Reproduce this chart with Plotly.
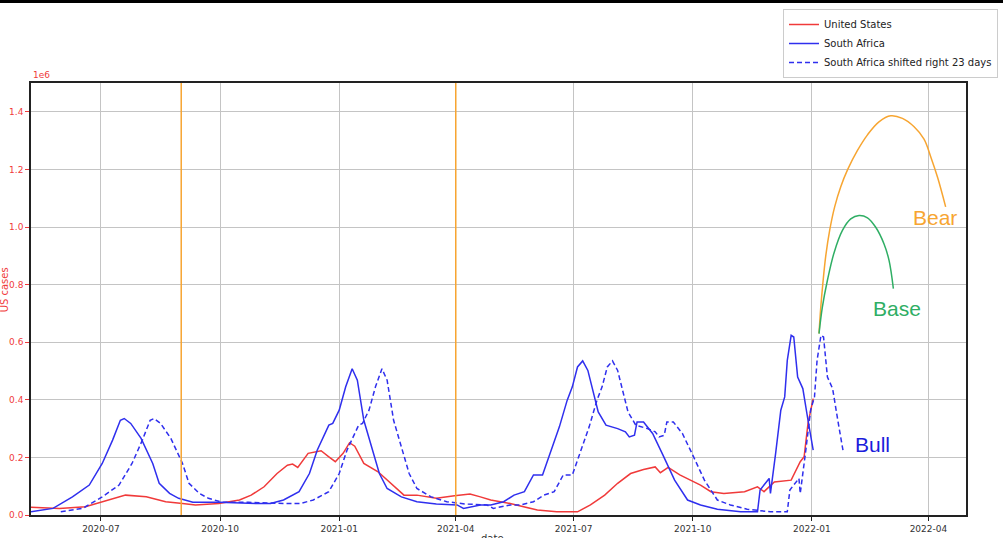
import pandas as pd
import plotly.graph_objects as go

# ---------------- data (cases) ----------------
sa_dates = ["2020-05-08","2020-05-25","2020-06-09","2020-06-22","2020-07-02","2020-07-10","2020-07-16","2020-07-19",
            "2020-07-24","2020-08-01","2020-08-10","2020-08-15","2020-08-23","2020-08-30","2020-09-10","2020-09-30",
            "2020-10-29","2020-11-09","2020-11-19","2020-12-01","2020-12-09","2020-12-15","2020-12-24","2020-12-27",
            "2021-01-01","2021-01-06","2021-01-11","2021-01-15","2021-01-20","2021-01-27","2021-02-01","2021-02-07",
            "2021-02-18","2021-03-02","2021-03-17","2021-04-02","2021-04-07","2021-04-20","2021-04-28","2021-05-08",
            "2021-05-16","2021-05-24","2021-05-31","2021-06-07","2021-06-13","2021-06-20","2021-06-26","2021-06-30",
            "2021-07-04","2021-07-08","2021-07-12","2021-07-16","2021-07-20","2021-07-26","2021-08-04","2021-08-10",
            "2021-08-13","2021-08-17","2021-08-19","2021-08-24","2021-08-31","2021-09-08","2021-09-17","2021-09-27",
            "2021-10-07","2021-10-20","2021-11-07","2021-11-20","2021-11-22","2021-11-29","2021-11-30","2021-12-04",
            "2021-12-08","2021-12-11","2021-12-13","2021-12-16","2021-12-18","2021-12-21","2021-12-25","2021-12-29",
            "2022-01-02"]
sa_cases = [11000,23000,63000,104000,179000,260000,329000,335000,
            318000,266000,179000,110000,75000,58000,44000,44000,
            40000,40000,52000,81000,144000,225000,312000,318000,
            364000,445000,508000,468000,329000,225000,144000,92000,
            63000,46000,38000,35000,23000,35000,35000,46000,
            69000,81000,139000,139000,214000,306000,398000,445000,
            514000,535000,502000,433000,358000,312000,300000,289000,
            271000,277000,323000,323000,283000,208000,121000,52000,
            35000,20000,11000,11000,87000,127000,75000,214000,
            364000,410000,537000,624000,618000,479000,439000,329000,
            225000]

us_dates = ["2020-05-08","2020-05-30","2020-06-19","2020-07-02","2020-07-20","2020-08-05","2020-08-20","2020-09-02",
            "2020-09-12","2020-09-30","2020-10-16","2020-10-25","2020-11-04","2020-11-14","2020-11-22","2020-11-26",
            "2020-11-30","2020-12-08","2020-12-18","2020-12-24","2020-12-29","2021-01-04","2021-01-09","2021-01-13",
            "2021-01-20","2021-01-31","2021-02-10","2021-02-20","2021-03-02","2021-03-17","2021-03-31","2021-04-12",
            "2021-04-20","2021-04-28","2021-05-13","2021-06-03","2021-06-18","2021-07-04","2021-07-14","2021-07-25",
            "2021-08-04","2021-08-14","2021-08-24","2021-09-02","2021-09-06","2021-09-12","2021-09-21","2021-10-07",
            "2021-10-15","2021-10-25","2021-11-10","2021-11-20","2021-11-25","2021-12-03","2021-12-16","2021-12-23",
            "2021-12-26","2021-12-29","2022-01-02"]
us_cases = [27000,23000,29000,46000,69000,63000,46000,40000,
            35000,40000,52000,69000,98000,144000,173000,177000,
            165000,214000,223000,202000,185000,214000,251000,239000,
            179000,150000,110000,69000,69000,58000,67000,73000,
            63000,52000,40000,17000,11000,11000,35000,69000,
            110000,144000,158000,167000,147000,165000,139000,104000,
            81000,75000,81000,98000,81000,115000,121000,185000,
            202000,318000,404000]

bear_dates = ["2022-01-06 12:00","2022-01-07 20:00","2022-01-09 09:00","2022-01-11 17:00","2022-01-14 19:00",
              "2022-01-18 14:00","2022-01-23 07:00","2022-01-28 16:00","2022-02-05 02:00","2022-02-12 22:00",
              "2022-02-21 19:00","2022-03-02 22:00","2022-03-11 22:00","2022-03-20 22:00","2022-03-28 14:00",
              "2022-04-03 02:00","2022-04-08 05:00","2022-04-14 07:00"]
bear_cases = [630000,720000,800000,900000,990000,
              1070000,1140000,1200000,1265000,1320000,
              1365000,1386000,1377000,1348000,1305000,
              1240000,1170000,1070000]

base_dates = ["2022-01-06 12:00","2022-01-09 02:00","2022-01-13 00:00","2022-01-18 02:00","2022-01-24 14:00",
              "2022-01-31 00:00","2022-02-06 10:00","2022-02-12 22:00","2022-02-19 07:00","2022-02-25 17:00",
              "2022-03-01 14:00","2022-03-04 22:00"]
base_cases = [630000,722000,815000,910000,988000,
              1028000,1040000,1032000,999000,941000,
              884000,786000]

shift_days = 23
vline_dates = ["2020-09-01", "2021-04-01"]

y_tickvals = [0, 200000, 400000, 600000, 800000, 1000000, 1200000, 1400000]
y_ticktext = ["0.0", "0.2", "0.4", "0.6", "0.8", "1.0", "1.2", "1.4"]

# ---------------- figure ----------------
RED = "#f03a3a"
BLUE = "#2f2fee"
ORANGE = "#f7a531"
GREEN = "#2fae64"

sa_shift_dates = (pd.to_datetime(sa_dates) + pd.Timedelta(days=shift_days)).strftime("%Y-%m-%d").tolist()

fig = go.Figure()
fig.add_trace(go.Scatter(x=us_dates, y=us_cases, mode="lines", name="United States",
                         line=dict(color=RED, width=1.5)))
fig.add_trace(go.Scatter(x=sa_dates, y=sa_cases, mode="lines", name="South Africa",
                         line=dict(color=BLUE, width=1.5)))
fig.add_trace(go.Scatter(x=sa_shift_dates, y=sa_cases, mode="lines",
                         name="South Africa shifted right 23 days",
                         line=dict(color=BLUE, width=1.5, dash="5px,3px")))
fig.add_trace(go.Scatter(x=bear_dates, y=bear_cases, mode="lines", showlegend=False,
                         line=dict(color=ORANGE, width=1.5, shape="spline", smoothing=1.0)))
fig.add_trace(go.Scatter(x=base_dates, y=base_cases, mode="lines", showlegend=False,
                         line=dict(color=GREEN, width=1.5, shape="spline", smoothing=1.0)))

for d in vline_dates:
    fig.add_shape(type="line", xref="x", yref="paper", x0=d, x1=d, y0=0, y1=1,
                  line=dict(color=ORANGE, width=1.5), layer="above")

H = 432.0
# black strip at top of image
fig.add_shape(type="rect", xref="paper", yref="paper", x0=-0.1, x1=1.1,
              y0=1 + 80/H, y1=1 + 90/H, fillcolor="black", line=dict(width=0))

fig.add_annotation(x="2022-04-06", y=1033000, text="Bear", showarrow=False,
                   font=dict(family="Liberation Sans, Arial", size=21, color=ORANGE))
fig.add_annotation(x="2022-03-08", y=717000, text="Base", showarrow=False,
                   font=dict(family="Liberation Sans, Arial", size=21, color=GREEN))
fig.add_annotation(x="2022-02-17", y=246000, text="Bull", showarrow=False,
                   font=dict(family="Liberation Sans, Arial", size=21, color="#1c1cdc"))

fig.add_annotation(xref="paper", yref="paper", x=0, y=1, xanchor="left", yanchor="bottom",
                   text="1e6", showarrow=False, yshift=1,
                   font=dict(family="DejaVu Sans", size=9, color=RED))
fig.add_annotation(xref="paper", yref="paper", x=-27/935, y=0.52, text="US cases", textangle=-90,
                   showarrow=False, xanchor="center", yanchor="middle",
                   font=dict(family="DejaVu Sans", size=10, color=RED))
fig.add_annotation(xref="paper", yref="paper", x=0.494, y=-16/H, text="date",
                   showarrow=False, xanchor="center", yanchor="top",
                   font=dict(family="DejaVu Sans", size=10, color="#333"))

fig.update_xaxes(type="date", range=["2020-05-08", "2022-04-30"],
                 tick0="2020-07-01", dtick="M3", tickformat="%Y-%m",
                 showgrid=True, gridcolor="#c4c4c4", gridwidth=1,
                 showline=True, linecolor="#222", linewidth=1.5, mirror=True,
                 ticks="outside", ticklen=4, tickcolor="#222",
                 tickfont=dict(family="DejaVu Sans", size=9, color="#333"), zeroline=False)
fig.update_yaxes(range=[0, 1500000], tickvals=y_tickvals, ticktext=y_ticktext,
                 showgrid=True, gridcolor="#c4c4c4", gridwidth=1,
                 showline=True, linecolor="#222", linewidth=1.5, mirror=True,
                 ticks="outside", ticklen=4, tickcolor=RED,
                 tickfont=dict(family="DejaVu Sans", size=9, color=RED), zeroline=False)

fig.update_layout(
    width=1003, height=538,
    margin=dict(l=31, r=37, t=83, b=23, autoexpand=False),
    paper_bgcolor="white", plot_bgcolor="white",
    legend=dict(x=(783-31)/935, y=1 + (83-9)/H, xanchor="left", yanchor="top",
                bgcolor="white", bordercolor="#cccccc", borderwidth=1,
                font=dict(family="DejaVu Sans", size=10, color="#222"),
                itemwidth=30, tracegroupgap=0),
    showlegend=True,
)

fig.write_html("out.html", config={"displayModeBar": False},
               post_script="document.body.style.margin='0';document.body.style.overflow='hidden';")
